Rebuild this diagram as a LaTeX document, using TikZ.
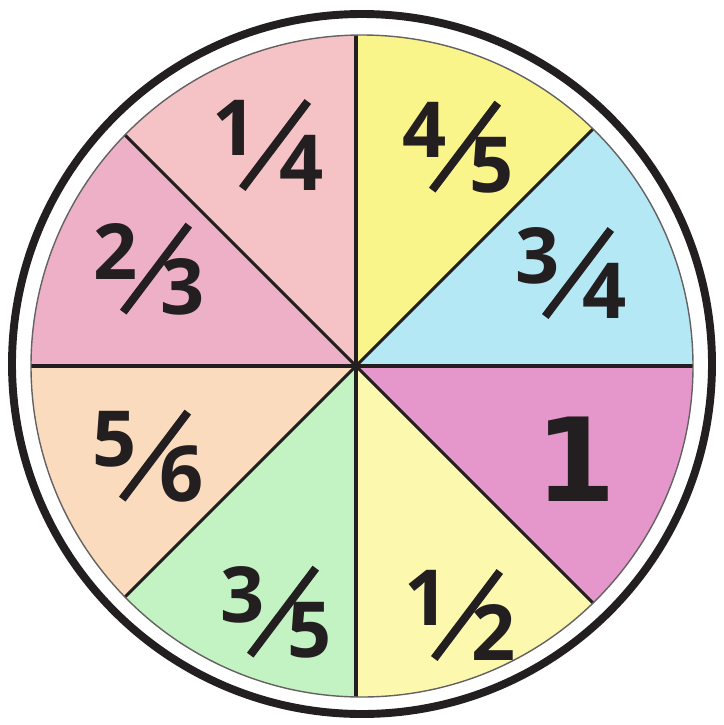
\documentclass[tikz,border=0pt]{standalone}
\usepackage{fontspec}
\usepackage{graphicx}
\usepackage{tikz}
\usetikzlibrary{calc}
\newfontfamily\numfont{Open Sans}
\newfontfamily\onefont{DejaVu Sans}
\definecolor{wheelmagenta}{HTML}{E597CB}
\definecolor{wheellemon}{HTML}{FCF8AE}
\definecolor{wheelgreen}{HTML}{C3F2C3}
\definecolor{wheelpeach}{HTML}{FADBBD}
\definecolor{wheelrose}{HTML}{EDB0C6}
\definecolor{wheelblush}{HTML}{F5C2C5}
\definecolor{wheelyellow}{HTML}{F9F58B}
\definecolor{wheelcyan}{HTML}{B4E8F4}
\definecolor{wheelink}{HTML}{231F20}
% numerator up, long slash, denominator on the baseline
\newcommand{\vfrac}[2]{\raisebox{20pt}{#1}\kern-10pt\rotatebox{53}{\rule{62pt}{4.6pt}}\kern-18pt#2}

\begin{document}
\begin{tikzpicture}[
    x=0.2mm, y=-0.2mm,
    spoke/.style={draw=wheelink, line width=1.8pt},
    ring/.style={draw=wheelink, line width=4.5pt},
    rim/.style={draw=wheelink!70, line width=0.8pt},
    frac/.style={inner sep=0pt, text=wheelink, font=\numfont\bfseries\fontsize{44}{44}\selectfont},
    bigone/.style={inner sep=0pt, text=wheelink, font=\onefont\bfseries\fontsize{66}{66}\selectfont}
]
\useasboundingbox (0,0) rectangle (724,725);

\coordinate (hub) at (356,366);
\coordinate (disc) at (362,366);

% outer ring
\draw[ring] (362,364) circle (350);

% coloured sectors, clipped to the disc
\begin{scope}
\clip (disc) circle (331);
\fill[wheelmagenta] (hub) -- ++(0:600) -- ($(hub)+(45:600)$) -- cycle;
\fill[wheellemon] (hub) -- ++(45:600) -- ($(hub)+(90:600)$) -- cycle;
\fill[wheelgreen] (hub) -- ++(90:600) -- ($(hub)+(135:600)$) -- cycle;
\fill[wheelpeach] (hub) -- ++(135:600) -- ($(hub)+(180:600)$) -- cycle;
\fill[wheelrose] (hub) -- ++(180:600) -- ($(hub)+(225:600)$) -- cycle;
\fill[wheelblush] (hub) -- ++(225:600) -- ($(hub)+(270:600)$) -- cycle;
\fill[wheelyellow] (hub) -- ++(270:600) -- ($(hub)+(315:600)$) -- cycle;
\fill[wheelcyan] (hub) -- ++(315:600) -- ($(hub)+(360:600)$) -- cycle;

% spokes
\draw[spoke] (hub) -- ++(0:500);
\draw[spoke] (hub) -- ++(45:500);
\draw[spoke] (hub) -- ++(90:500);
\draw[spoke] (hub) -- ++(135:500);
\draw[spoke] (hub) -- ++(180:500);
\draw[spoke] (hub) -- ++(225:500);
\draw[spoke] (hub) -- ++(270:500);
\draw[spoke] (hub) -- ++(315:500);
\end{scope}
\draw[rim] (disc) circle (331);

% labels
\node[frac] (quarter) at (268,145) {\vfrac{1}{4}};
\node[frac] (fourfifths) at (458,147) {\vfrac{4}{5}};
\node[frac] (twothirds) at (149,269) {\vfrac{2}{3}};
\node[frac] (threequarters) at (571,273) {\vfrac{3}{4}};
\node[frac] (fivesixths) at (148,456) {\vfrac{5}{6}};
\node[bigone] (whole) at (576,459) {1};
\node[frac] (threefifths) at (276,612) {\vfrac{3}{5}};
\node[frac] (half) at (460,615) {\vfrac{1}{2}};

\end{tikzpicture}
\end{document}
